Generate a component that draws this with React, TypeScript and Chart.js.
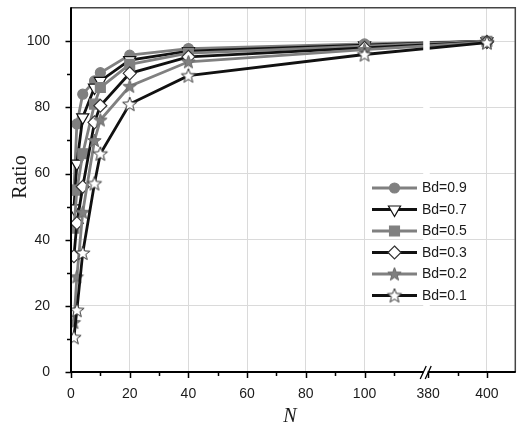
import React, { useEffect, useRef } from 'react';
import { Chart, registerables } from 'chart.js';

Chart.register(...registerables);

// ---------- data ----------
const N_VALUES = [1, 2, 4, 8, 10, 20, 40, 100, 400];
const SERIES_LABELS = ['Bd=0.9', 'Bd=0.7', 'Bd=0.5', 'Bd=0.3', 'Bd=0.2', 'Bd=0.1'];
const BD09 = [55, 75, 84, 88, 90.5, 95.8, 97.8, 99.2, 100];
const BD07 = [49.5, 63, 77, 86, 88, 94.3, 97, 98.8, 100];
const BD05 = [43.5, 55, 66, 81, 86, 93, 96.4, 98.5, 100];
const BD03 = [35, 45, 56, 75.5, 80.5, 90.3, 95.3, 98, 99.8];
const BD02 = [15, 28.8, 48.3, 70, 76.2, 86.4, 93.8, 97.5, 99.7];
const BD01 = [10.5, 18.7, 36, 57, 66, 81, 89.6, 96, 99.6];
const X_TICKS = [0, 10, 20, 30, 40, 50, 60, 70, 80, 90, 100, 110, 380, 390, 400];
const X_LABELS = ['0', '', '20', '', '40', '', '60', '', '80', '', '100', '', '380', '', '400'];
const Y_MAX = 110;

// broken axis: values from 380 on are shifted left next to the break
const BREAK_AT = 380;
const BREAK_SHIFT = 258.3;
const X_MAX = 409.5 - BREAK_SHIFT;
const toAxis = (n: number) => (n >= BREAK_AT ? n - BREAK_SHIFT : n);

const GRAY = '#808080';
const BLACK = '#111111';
const GRID = '#dadada';
const TICK_FONT = '14px "Liberation Sans", Arial, sans-serif';

function makeStar(fill: string, stroke: string, R: number) {
  const c = document.createElement('canvas');
  const s = Math.ceil(R * 2 + 3);
  c.width = s;
  c.height = s;
  const g = c.getContext('2d')!;
  const cx = s / 2, cy = s / 2 + 0.5;
  g.beginPath();
  for (let i = 0; i < 10; i++) {
    const r = i % 2 === 0 ? R : R * 0.42;
    const a = -Math.PI / 2 + (i * Math.PI) / 5;
    g.lineTo(cx + r * Math.cos(a), cy + r * Math.sin(a));
  }
  g.closePath();
  g.fillStyle = fill;
  g.fill();
  g.lineWidth = 1;
  g.strokeStyle = stroke;
  g.stroke();
  return c;
}

function drawMarker(ctx: CanvasRenderingContext2D, ds: any, x: number, y: number) {
  const st = ds.pointStyle;
  if (st instanceof HTMLCanvasElement) {
    ctx.drawImage(st, x - st.width / 2, y - st.height / 2);
    return;
  }
  const r = ds.pointRadius;
  ctx.beginPath();
  if (st === 'circle') {
    ctx.arc(x, y, r, 0, Math.PI * 2);
  } else if (st === 'triangle') {
    ctx.moveTo(x, y + r);
    ctx.lineTo(x - r * Math.sin(Math.PI / 3), y - r / 2);
    ctx.lineTo(x + r * Math.sin(Math.PI / 3), y - r / 2);
    ctx.closePath();
  } else if (st === 'rect') {
    const h = r * Math.SQRT1_2;
    ctx.rect(x - h, y - h, 2 * h, 2 * h);
  } else if (st === 'rectRot') {
    ctx.moveTo(x, y - r);
    ctx.lineTo(x + r, y);
    ctx.lineTo(x, y + r);
    ctx.lineTo(x - r, y);
    ctx.closePath();
  }
  ctx.fillStyle = ds.pointBackgroundColor;
  ctx.fill();
  ctx.lineWidth = ds.pointBorderWidth;
  ctx.strokeStyle = ds.pointBorderColor;
  ctx.stroke();
}

const decor = {
  id: 'decor',
  afterDatasetsDraw(chart: any) {
    const { ctx, chartArea: a, scales } = chart;
    const x = scales.x, y = scales.y;
    ctx.save();
    const bx = x.getPixelForValue(toAxis(BREAK_AT));
    // gap in the lines at the break
    ctx.fillStyle = '#ffffff';
    ctx.fillRect(bx - 5, a.top + 1, 6.5, a.bottom - a.top - 2);

    // frame: top and right
    ctx.strokeStyle = '#444444';
    ctx.lineWidth = 1.5;
    ctx.beginPath();
    ctx.moveTo(a.left, a.top - 0.5);
    ctx.lineTo(a.right + 0.5, a.top - 0.5);
    ctx.lineTo(a.right + 0.5, a.bottom);
    ctx.stroke();

    // axes left and bottom
    ctx.strokeStyle = '#000000';
    ctx.lineWidth = 2;
    ctx.beginPath();
    ctx.moveTo(a.left, a.top - 1);
    ctx.lineTo(a.left, a.bottom);
    ctx.lineTo(a.right + 1, a.bottom);
    ctx.stroke();

    // tick marks
    ctx.lineWidth = 1.5;
    ctx.beginPath();
    y.ticks.forEach((t: any) => {
      if (t.value >= Y_MAX) return;
      const py = Math.round(y.getPixelForValue(t.value)) + 0.5;
      const len = t.value % 20 === 0 ? 5.5 : 4;
      ctx.moveTo(a.left - len, py);
      ctx.lineTo(a.left, py);
    });
    X_TICKS.forEach((v) => {
      const px = Math.round(x.getPixelForValue(toAxis(v))) + 0.5;
      const len = v % 20 === 0 ? 6 : 4;
      ctx.moveTo(px, a.bottom);
      ctx.lineTo(px, a.bottom + len);
    });
    ctx.stroke();

    // break marks on bottom axis
    ctx.fillStyle = '#ffffff';
    ctx.fillRect(bx - 4.5, a.bottom - 3, 4, 6);
    ctx.lineWidth = 1.3;
    ctx.beginPath();
    ctx.moveTo(bx - 8, a.bottom + 7);
    ctx.lineTo(bx - 2, a.bottom - 6);
    ctx.moveTo(bx - 3, a.bottom + 7);
    ctx.lineTo(bx + 3, a.bottom - 6);
    ctx.stroke();

    // legend
    const dss = chart.data.datasets;
    const lx0 = 372, lx1 = 417, ly0 = 188, dy = 21.5;
    dss.forEach((ds: any, i: number) => {
      const ly = ly0 + i * dy;
      ctx.strokeStyle = ds.borderColor;
      ctx.lineWidth = ds.borderWidth;
      ctx.beginPath();
      ctx.moveTo(lx0, ly);
      ctx.lineTo(lx1, ly);
      ctx.stroke();
      drawMarker(ctx, ds, (lx0 + lx1) / 2, ly);
      ctx.fillStyle = '#1a1a1a';
      ctx.font = TICK_FONT;
      ctx.textAlign = 'left';
      ctx.textBaseline = 'middle';
      ctx.fillText(ds.label, 422, ly + 0.5);
    });

    // axis titles
    ctx.fillStyle = '#1a1a1a';
    ctx.font = '20px "Liberation Serif", "Times New Roman", serif';
    ctx.save();
    ctx.translate(21, 177);
    ctx.rotate(-Math.PI / 2);
    ctx.textAlign = 'center';
    ctx.textBaseline = 'middle';
    ctx.fillText('Ratio', 0, 0);
    ctx.restore();
    ctx.font = 'italic 20px "Liberation Serif", "Times New Roman", serif';
    ctx.textAlign = 'center';
    ctx.textBaseline = 'middle';
    ctx.fillText('N', 290, 417);
    ctx.restore();
  },
};

export default function App() {
  const ref = useRef<HTMLCanvasElement | null>(null);
  useEffect(() => {
    if (!ref.current) return;
    document.body.style.overflow = 'hidden';
    const starGray = makeStar(GRAY, '#6a6a6a', 7);
    const starWhite = makeStar('#ffffff', '#333333', 7.5);
    const series = [BD09, BD07, BD05, BD03, BD02, BD01];
    const styles = [
      { color: GRAY, pointStyle: 'circle', r: 5, bg: GRAY, bc: GRAY },
      { color: BLACK, pointStyle: 'triangle', r: 7, bg: '#ffffff', bc: '#111111', rot: 180 },
      { color: GRAY, pointStyle: 'rect', r: 7, bg: GRAY, bc: GRAY },
      { color: BLACK, pointStyle: 'rectRot', r: 6.5, bg: '#ffffff', bc: '#333333' },
      { color: GRAY, pointStyle: starGray, r: 7, bg: GRAY, bc: GRAY },
      { color: BLACK, pointStyle: starWhite, r: 7, bg: '#ffffff', bc: '#333333' },
    ];
    const datasets = series.map((vals, i) => ({
      label: SERIES_LABELS[i],
      data: vals.map((v, j) => ({ x: toAxis(N_VALUES[j]), y: v })),
      borderColor: styles[i].color,
      backgroundColor: styles[i].color,
      borderWidth: 2.8,
      pointStyle: styles[i].pointStyle as any,
      pointRadius: styles[i].r,
      pointRotation: (styles[i] as any).rot || 0,
      pointBackgroundColor: styles[i].bg,
      pointBorderColor: styles[i].bc,
      pointBorderWidth: 1.2,
      tension: 0,
      order: series.length - 1 - i,
    }));
    const chart = new Chart(ref.current, {
      type: 'line',
      data: { datasets },
      options: {
        animation: false,
        responsive: false,
        devicePixelRatio: 1,
        layout: { padding: { top: 6, right: 4, left: 0, bottom: 0 } },
        plugins: { legend: { display: false }, tooltip: { enabled: false } },
        scales: {
          x: {
            type: 'linear',
            min: 0,
            max: X_MAX,
            afterBuildTicks: (scale: any) => {
              scale.ticks = X_TICKS.map((v) => ({ value: toAxis(v) }));
            },
            afterFit: (scale: any) => {
              scale.height = 58;
              scale.paddingLeft = 0;
              scale.paddingRight = 0;
              scale.paddingTop = 0;
              scale.paddingBottom = 0;
            },
            border: { display: false },
            grid: {
              drawTicks: false,
              lineWidth: 1,
              color: (c: any) => {
                const v = X_TICKS[c.index];
                return v !== undefined && v % 20 === 0 && v > 0 && v !== BREAK_AT ? GRID : 'rgba(0,0,0,0)';
              },
            },
            ticks: {
              autoSkip: false,
              maxRotation: 0,
              padding: 14,
              color: '#1a1a1a',
              font: { family: '"Liberation Sans", Arial, sans-serif', size: 14 },
              callback: (_v: any, i: number) => X_LABELS[i],
            },
          },
          y: {
            type: 'linear',
            min: 0,
            max: Y_MAX,
            afterFit: (scale: any) => {
              scale.width = 71;
              scale.paddingLeft = 0;
              scale.paddingRight = 0;
              scale.paddingTop = 0;
              scale.paddingBottom = 0;
            },
            border: { display: false },
            grid: {
              drawTicks: false,
              lineWidth: 1,
              color: (c: any) => {
                const v = c.tick ? c.tick.value : 0;
                return v % 20 === 0 && v > 0 && v < Y_MAX ? GRID : 'rgba(0,0,0,0)';
              },
            },
            ticks: {
              stepSize: 10,
              padding: 21,
              color: '#1a1a1a',
              font: { family: '"Liberation Sans", Arial, sans-serif', size: 14 },
              callback: (v: any) => (v % 20 === 0 && v <= 100 ? String(v) : ''),
            },
          },
        },
      },
      plugins: [decor],
    });
    return () => chart.destroy();
  }, []);
  return (
    <canvas
      ref={ref}
      width={523}
      height={430}
      style={{ position: 'fixed', left: 0, top: 0, width: 523, height: 430, display: 'block' }}
    />
  );
}
